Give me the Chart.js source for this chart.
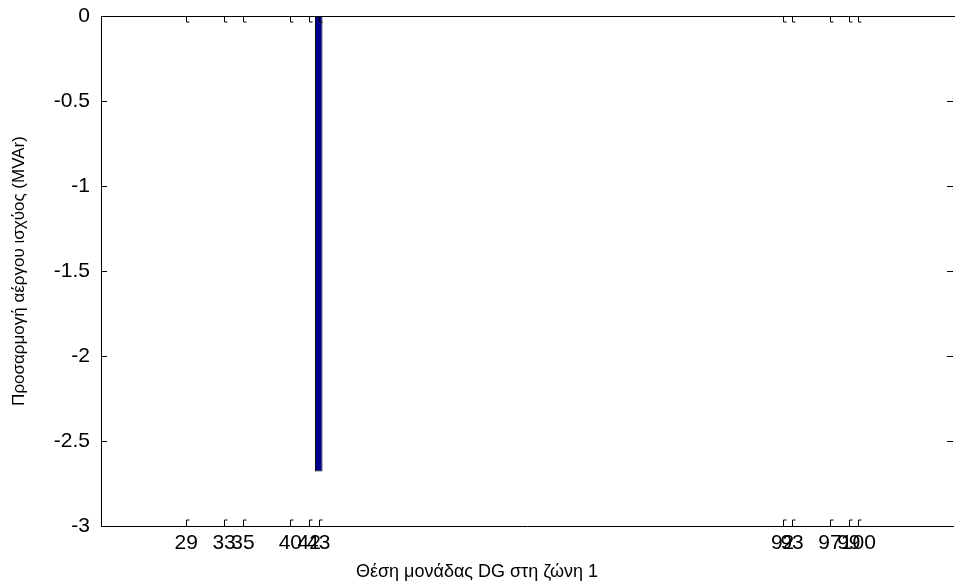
<!DOCTYPE html>
<html>
<head>
<meta charset="utf-8">
<script src="https://cdn.jsdelivr.net/npm/chart.js@4"></script>
<style>
  body { margin: 0; background: #fff; }
  canvas { display: block; }
</style>
</head>
<body>
<canvas id="dgchart" width="955" height="583"></canvas>
<script>
    // θέσεις μονάδων DG και προσαρμογή αέργου ισχύος
    const positions = [29, 33, 35, 40, 42, 43, 92, 93, 97, 99, 100];
    const reactive = [0, 0, 0, 0, 0, -2.68, 0, 0, 0, 0, 0];
    const yTicks = [0, -0.5, -1, -1.5, -2, -2.5, -3];

    // inward ticks like matlab + top line
    const boxTicks = {
        id: 'boxTicks',
        afterDraw(chart) {
            const { ctx, chartArea: { left, right, top, bottom }, scales: { x, y } } = chart;
            ctx.save();
            ctx.strokeStyle = '#000';
            ctx.lineWidth = 1;
            ctx.beginPath();
            ctx.moveTo(left, top + 0.5);
            ctx.lineTo(right + 2, top + 0.5);
            positions.forEach(v => {
                const px = Math.round(x.getPixelForValue(v)) + 0.5;
                ctx.moveTo(px, top);
                ctx.lineTo(px, top + 6);
                ctx.lineTo(px + 3, top + 6);
                ctx.moveTo(px, bottom);
                ctx.lineTo(px, bottom - 6);
                ctx.lineTo(px + 3, bottom - 6);
            });
            yTicks.forEach(v => {
                const py = Math.round(y.getPixelForValue(v)) + 0.5;
                ctx.moveTo(left, py);
                ctx.lineTo(left + 6, py);
                ctx.moveTo(right - 6, py);
                ctx.lineTo(right, py);
            });
            ctx.stroke();
            ctx.restore();
        }
    };

    const ctx = document.getElementById('dgchart').getContext('2d');
    const myChart = new Chart(ctx, {
        type: 'bar',
        data: {
            datasets: [{
                data: positions.map((p, i) => ({ x: p, y: reactive[i] })),
                backgroundColor: '#00008f',
                borderColor: '#000',
                borderWidth: 1,
                borderSkipped: false,
                barPercentage: 0.8,
                categoryPercentage: 1.0
            }]
        },
        options: {
            responsive: false,
            animation: false,
            layout: { padding: { top: 16, right: 2, left: 0, bottom: 0 } },
            plugins: {
                legend: { display: false },
                tooltip: { enabled: false }
            },
            scales: {
                x: {
                    type: 'linear',
                    offset: false,
                    min: 20,
                    max: 110,
                    afterBuildTicks: scale => {
                        scale.ticks = positions.map(v => ({ value: v }));
                    },
                    afterFit: scale => { scale.height = 57; },
                    grid: { display: false, drawTicks: false, offset: false },
                    border: { display: true, color: '#000', width: 1 },
                    ticks: {
                        autoSkip: false,
                        maxRotation: 0,
                        padding: 5,
                        color: '#000',
                        font: { family: 'Liberation Sans, Arial, sans-serif', size: 21 },
                        callback: v => String(v)
                    },
                    title: {
                        display: true,
                        // trailing spaces push the label a bit left, as in the original
                        text: 'Θέση μονάδας DG στη ζώνη 1' + ' '.repeat(20),
                        color: '#000',
                        padding: { top: 0, bottom: 0 },
                        font: { family: 'Liberation Sans, Arial, sans-serif', size: 18 }
                    }
                },
                y: {
                    min: -3,
                    max: 0,
                    afterBuildTicks: scale => {
                        scale.ticks = yTicks.map(v => ({ value: v }));
                    },
                    afterFit: scale => {
                        scale.width = 101;
                        scale.paddingTop = 0;
                        scale.paddingBottom = 0;
                    },
                    grid: { display: false, drawTicks: false },
                    border: { display: true, color: '#000', width: 1 },
                    ticks: {
                        padding: 11,
                        color: '#000',
                        font: { family: 'Liberation Sans, Arial, sans-serif', size: 21 },
                        callback: v => String(v)
                    },
                    title: {
                        display: true,
                        text: 'Προσαρμογή αέργου ισχύος (MVAr)',
                        color: '#000',
                        padding: { top: 9, bottom: 0 },
                        font: { family: 'Liberation Sans, Arial, sans-serif', size: 17 }
                    }
                }
            }
        },
        plugins: [boxTicks]
    });
</script>
</body>
</html>
